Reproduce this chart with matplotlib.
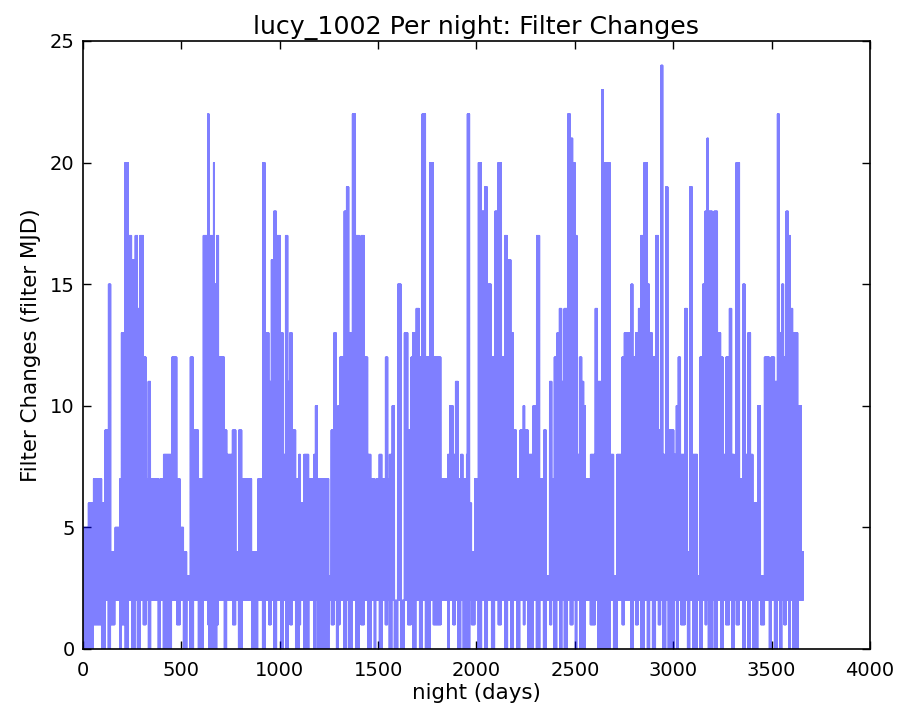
import numpy as np
import matplotlib
matplotlib.use("Agg")
import matplotlib.pyplot as plt

# Segment start nights and the peak value reached in each segment
seg_start = [0, 27, 53, 95, 112, 129, 141, 163, 188, 195, 214, 231, 248, 265, 277, 290, 307, 321, 332, 344, 383, 392, 409, 451,
             477, 494, 511, 528, 545, 562, 587, 612, 634, 641, 663, 668, 680, 689, 719, 731, 760, 777, 791, 808, 858, 889, 913, 926,
             945, 957, 970, 984, 1004, 1018, 1030, 1042, 1052, 1064, 1081, 1098, 1106, 1123, 1148, 1174, 1182, 1191, 1250, 1262, 1276, 1288, 1296, 1306, 1327, 1340, 1352, 1369, 1386,
             1405, 1413, 1430, 1447, 1464, 1481, 1489, 1506, 1520, 1537, 1549, 1557, 1571, 1583, 1600, 1617, 1634, 1651, 1668, 1676, 1693, 1710, 1724, 1741, 1764, 1781, 1820, 1854, 1863,
             1881, 1893, 1907, 1920, 1932, 1949, 1954, 1966, 1975, 1992, 2009, 2026, 2042, 2056, 2076, 2093, 2110, 2127, 2144, 2158, 2175, 2187, 2204, 2221, 2238, 2246, 2263, 2288, 2305, 2322,
             2341, 2355, 2372, 2383, 2395, 2409, 2422, 2434, 2446, 2463, 2477, 2490, 2502, 2511, 2524, 2536, 2545, 2553, 2579, 2604, 2616, 2638, 2646, 2680, 2697, 2714, 2740, 2752, 2785, 2796,
             2809, 2823, 2835, 2852, 2869, 2880, 2894, 2911, 2925, 2937, 2948, 2962, 2974, 3004, 3016, 3026, 3038, 3060, 3072, 3084, 3098, 3123, 3135, 3149, 3162, 3171, 3179, 3199, 3208, 3225, 3242, 3254, 3267,
             3286, 3298, 3311, 3320, 3337, 3354, 3366, 3379, 3393, 3405, 3430, 3444, 3464, 3489, 3498, 3515, 3529, 3540, 3552, 3562, 3574, 3586, 3596, 3608, 3634, 3651]

seg_max = [5, 6, 7, 6, 9, 15, 4, 5, 7, 13, 20, 17, 16, 17, 14, 17, 12, 7, 11, 7, 6, 7, 8, 12,
           7, 5, 4, 3, 12, 9, 7, 17, 22, 17, 20, 15, 17, 12, 9, 8, 9, 4, 9, 7, 4, 7, 20, 13,
           11, 16, 18, 17, 13, 8, 17, 11, 13, 9, 7, 8, 6, 8, 7, 8, 10, 7, 3, 9, 13, 5, 10, 12, 18, 19, 13, 22, 17,
           12, 17, 12, 8, 7, 5, 7, 8, 7, 12, 7, 8, 10, 2, 15, 2, 13, 9, 12, 13, 14, 12, 22, 12, 20, 12, 7, 8, 10,
           8, 11, 7, 8, 7, 8, 22, 6, 4, 7, 20, 18, 19, 15, 12, 18, 20, 12, 17, 16, 13, 9, 7, 9, 10, 9, 8, 10, 17, 7,
           9, 3, 11, 7, 12, 13, 14, 11, 14, 22, 21, 20, 17, 8, 12, 11, 10, 7, 8, 14, 11, 23, 20, 8, 3, 8, 12, 13, 15, 12,
           13, 14, 17, 20, 15, 13, 12, 17, 9, 24, 8, 19, 9, 8, 10, 12, 8, 14, 4, 19, 8, 3, 12, 15, 18, 21, 18, 14, 18, 13, 12, 8, 12,
           14, 8, 4, 20, 7, 15, 8, 13, 8, 6, 10, 3, 12, 9, 12, 11, 22, 13, 15, 12, 18, 17, 14, 13, 10, 4]

# Lowest value reached within each segment (0, 1 or 2)
seg_low = [0, 0, 1, 0, 2, 0, 1, 2, 0, 1, 0, 2, 0, 2, 0, 2, 1, 2, 0, 2, 0, 2, 0, 2,
           1, 2, 0, 2, 0, 2, 0, 2, 1, 0, 2, 0, 1, 2, 0, 2, 1, 2, 0, 2, 0, 2, 0, 2,
           1, 2, 0, 2, 0, 2, 0, 2, 1, 2, 0, 1, 2, 0, 2, 0, 2, 0, 2, 1, 2, 0, 1, 2, 0, 2, 0, 2, 0,
           2, 1, 2, 0, 2, 0, 2, 0, 2, 1, 2, 0, 2, 0, 2, 0, 2, 1, 2, 0, 2, 0, 2, 0, 2, 1, 2, 0, 2,
           1, 2, 0, 2, 0, 2, 0, 2, 1, 2, 0, 2, 0, 2, 0, 2, 1, 2, 0, 2, 0, 2, 0, 2, 1, 2, 0, 2, 0, 2,
           0, 2, 1, 2, 0, 2, 0, 2, 0, 2, 1, 2, 0, 2, 0, 2, 0, 2, 1, 2, 0, 2, 0, 2, 0, 2, 1, 2, 0, 2,
           1, 2, 0, 2, 0, 2, 0, 2, 1, 2, 0, 2, 0, 2, 0, 2, 1, 2, 0, 2, 0, 2, 0, 2, 1, 2, 0, 2, 0, 2, 0, 2, 1,
           2, 0, 2, 1, 2, 0, 2, 0, 2, 0, 2, 1, 2, 0, 2, 0, 2, 0, 2, 1, 2, 0, 2, 0, 2, 2]

last_night = 3660

title = "lucy_1002 Per night: Filter Changes"
xlabel = "night (days)"
ylabel = "Filter Changes (filter MJD)"
xticks = [0, 500, 1000, 1500, 2000, 2500, 3000, 3500, 4000]
yticks = [0, 5, 10, 15, 20, 25]

assert len(seg_start) == len(seg_max) == len(seg_low), (len(seg_start), len(seg_max), len(seg_low))

nights = np.arange(0, last_night + 1)
idx = np.searchsorted(np.array(seg_start), nights, side="right") - 1
hi = np.array(seg_max)[idx]
lo = np.array(seg_low)[idx]
vals = np.where(nights % 2 == 0, hi, lo)

fig = plt.figure(figsize=(9.03, 7.13), dpi=100)
ax = fig.add_axes([83 / 903, 1 - 649 / 713, (870 - 83) / 903, (649 - 41) / 713])
ax.plot(nights, vals, color="b", alpha=0.5, lw=1.0)

ax.set_xlim(0, 4000)
ax.set_ylim(0, 25)
ax.set_xticks(xticks)
ax.set_yticks(yticks)
ax.tick_params(direction="in", top=True, right=True, length=6, width=1,
               labelsize=14, colors="black")
ax.tick_params(axis="x", pad=9)
ax.tick_params(axis="y", pad=6)
for s in ax.spines.values():
    s.set_linewidth(1.2)
ax.set_title(title, fontsize=18.2, pad=5)
ax.set_xlabel(xlabel, fontsize=15.4, labelpad=2)
ax.set_ylabel(ylabel, fontsize=15.4, labelpad=6)

fig.savefig("out.png", dpi=100, facecolor="white")
